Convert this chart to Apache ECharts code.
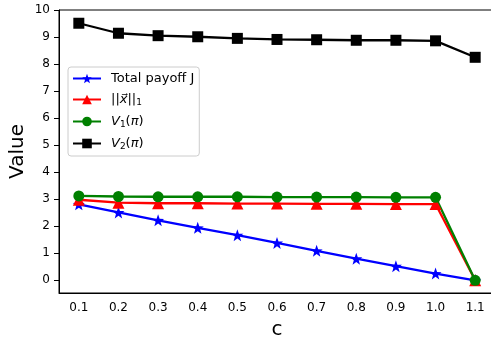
<!DOCTYPE html>
<html>
<head>
<meta charset="utf-8">
<script src="https://cdn.jsdelivr.net/npm/echarts@6/dist/echarts.min.js"></script>
<style>
  html, body { margin: 0; padding: 0; background: #fff; }
  #chart { width: 491px; height: 339px; }
</style>
</head>
<body>
<div id="chart"></div>
<script>
// c values on the x axis
const cValues = ['0.1', '0.2', '0.3', '0.4', '0.5', '0.6', '0.7', '0.8', '0.9', '1.0', '1.1'];
const yTicks = [0, 1, 2, 3, 4, 5, 6, 7, 8, 9, 10];

// series values
const totalPayoff = [2.81, 2.51, 2.22, 1.94, 1.67, 1.38, 1.09, 0.80, 0.52, 0.25, 0.0];
const xNorm = [2.98, 2.87, 2.85, 2.85, 2.84, 2.84, 2.83, 2.83, 2.82, 2.82, 0.0];
const v1 = [3.12, 3.10, 3.09, 3.09, 3.09, 3.08, 3.08, 3.08, 3.07, 3.07, 0.0];
const v2 = [9.51, 9.14, 9.05, 9.01, 8.95, 8.91, 8.90, 8.88, 8.88, 8.86, 8.25];

const FONT = 'DejaVu Sans';
const STAR = 'path://M12,0 L14.9,8.1 L23.4,8.3 L16.7,13.5 L19.1,21.7 L12,16.8 L4.9,21.7 L7.3,13.5 L0.6,8.3 L9.1,8.1 Z';

const chart = echarts.init(document.getElementById('chart'), null, { renderer: 'canvas' });

function line(name, data, color, symbol, size) {
  return {
    name: name,
    type: 'line',
    data: data,
    symbol: symbol,
    symbolSize: size,
    showAllSymbol: true,
    lineStyle: { color: color, width: 2.3 },
    itemStyle: { color: color, borderWidth: 0 },
    emphasis: { disabled: true },
    animation: false
  };
}

chart.setOption({
  animation: false,
  grid: {
    left: 59, right: -4, top: 10, bottom: 46,
    outerBoundsMode: 'none',
    containLabel: false,
    show: true, borderColor: '#000', borderWidth: 1, backgroundColor: 'transparent'
  },
  legend: {
    orient: 'vertical',
    left: 68, top: 67,
    itemWidth: 28, itemHeight: 12, itemGap: 8,
    padding: [5, 5, 5, 4],
    borderColor: '#cccccc', borderWidth: 1, borderRadius: 3,
    backgroundColor: 'rgba(255,255,255,0.8)',
    textStyle: {
      fontFamily: FONT, fontSize: 13, color: '#000',
      padding: [0, 0, 0, 5],
      rich: {
        i: { fontFamily: FONT, fontSize: 13, fontStyle: 'italic', color: '#000' },
        n: { fontFamily: FONT, fontSize: 13, color: '#000' },
        s: { fontFamily: FONT, fontSize: 9, color: '#000', verticalAlign: 'bottom', padding: [6, 0, 0, 0] }
      }
    },
    formatter: function (name) {
      if (name === 'norm') return '{n|||}{i|x\u20D7}{n|||}{s|1}';
      if (name === 'V1') return '{i|V}{s|1}{n|(}{i|π}{n|)}';
      if (name === 'V2') return '{i|V}{s|2}{n|(}{i|π}{n|)}';
      return name;
    },
    data: ['Total payoff J', 'norm', 'V1', 'V2']
  },
  xAxis: {
    type: 'category',
    data: cValues,
    boundaryGap: true,
    name: 'c',
    nameLocation: 'middle',
    nameGap: 27,
    nameMoveOverlap: false,
    nameTextStyle: { fontFamily: FONT, fontSize: 20, color: '#000' },
    axisLine: { onZero: false, lineStyle: { color: '#000', width: 1 } },
    axisTick: { alignWithLabel: true, length: 5, inside: false, lineStyle: { color: '#000' } },
    axisLabel: { fontFamily: FONT, fontSize: 12, color: '#000', margin: 9 },
    splitLine: { show: false }
  },
  yAxis: {
    type: 'value',
    min: -0.47, max: 10,
    name: 'Value',
    nameLocation: 'middle',
    nameGap: 31,
    nameMoveOverlap: false,
    nameTextStyle: { fontFamily: FONT, fontSize: 20, color: '#000' },
    axisLine: { show: true, lineStyle: { color: '#000', width: 1 } },
    axisTick: { show: true, length: 5, customValues: yTicks, lineStyle: { color: '#000' } },
    axisLabel: { fontFamily: FONT, fontSize: 12, color: '#000', margin: 9, customValues: yTicks },
    splitLine: { show: false }
  },
  series: [
    line('Total payoff J', totalPayoff, '#0000ff', STAR, 12),
    line('norm', xNorm, '#ff0000', 'triangle', 12),
    line('V1', v1, '#008000', 'circle', 11),
    line('V2', v2, '#000000', 'rect', 11)
  ]
});
</script>
</body>
</html>
